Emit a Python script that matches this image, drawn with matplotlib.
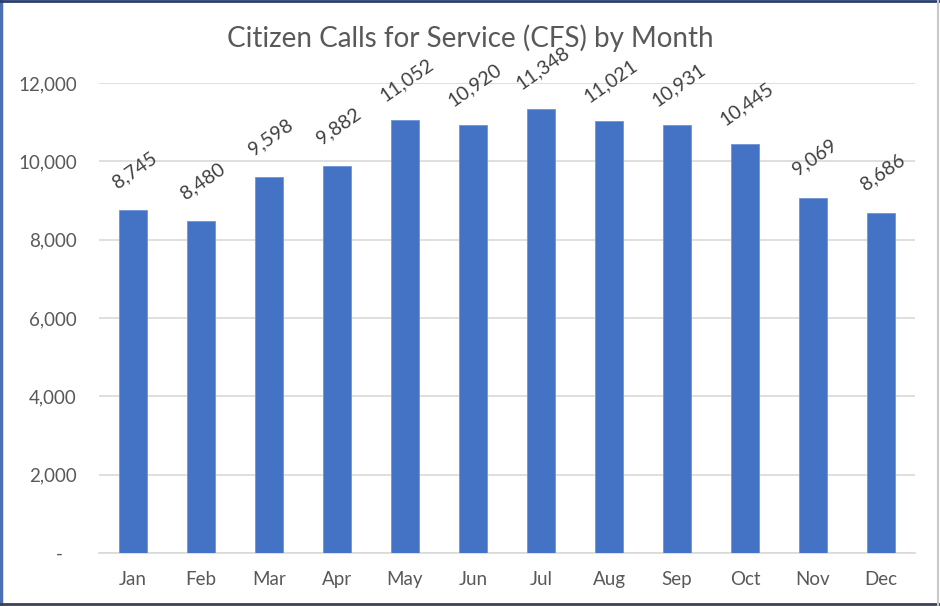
import matplotlib
matplotlib.use("Agg")
import matplotlib.pyplot as plt
from matplotlib.lines import Line2D
from matplotlib.ticker import FuncFormatter

months = ["Jan", "Feb", "Mar", "Apr", "May", "Jun", "Jul", "Aug", "Sep", "Oct", "Nov", "Dec"]
calls = [8745, 8480, 9598, 9882, 11052, 10920, 11348, 11021, 10931, 10445, 9069, 8686]
yticks = [0, 2000, 4000, 6000, 8000, 10000, 12000]
title = "Citizen Calls for Service (CFS) by Month"

plt.rcParams['font.family'] = ['Lato', 'DejaVu Sans']
txt = "#595959"

fig = plt.figure(figsize=(9.4, 6.06), dpi=100)
ax = fig.add_axes([99/940, 1-553/606, (915-99)/940, (553-83)/606])

x = list(range(len(months)))
ax.bar(x, calls, width=0.4, color="#4472C4", edgecolor="#6f93d6", linewidth=0.6, zorder=3)
ax.set_xlim(-0.5, len(months)-0.5)
ax.set_ylim(0, 12000)
ax.set_yticks(yticks)
ax.yaxis.set_major_formatter(FuncFormatter(lambda v, p: "-\u00a0\u00a0\u00a0" if v == 0 else f"{int(v):,}"))
ax.set_xticks(x)
ax.set_xticklabels(months)
ax.tick_params(axis='both', length=0, labelsize=13.5, colors=txt)
ax.tick_params(axis='y', pad=16)
ax.tick_params(axis='x', pad=13)
ax.grid(axis='y', color="#d9d9d9", linewidth=1.2, zorder=0)
for s in ["top", "right", "left"]:
    ax.spines[s].set_visible(False)
ax.spines["bottom"].set_color("#d9d9d9")
ax.spines["bottom"].set_linewidth(1.2)

for xi, v in zip(x, calls):
    ax.annotate(f"{v:,}", (xi, v), xytext=(1.5, 29), textcoords="offset points",
                ha="center", va="center", rotation=35, fontsize=14, color="#404040")

fig.text(0.5, 1-38/606, title, ha="center", va="center", fontsize=20, color=txt)

# frame
tf = fig.transFigure
fig.lines.append(Line2D([0.001, 0.001], [0, 1], transform=tf, color="#4a6fb5", linewidth=2.5))
fig.lines.append(Line2D([0, 1], [0.999, 0.999], transform=tf, color="#2a3f70", linewidth=2))
fig.lines.append(Line2D([0, 1], [0.004, 0.004], transform=tf, color="#3a4150", linewidth=2))
fig.lines.append(Line2D([0.998, 0.998], [0, 1], transform=tf, color="#c8c8c8", linewidth=1.5))
fig.savefig("out.png", dpi=100)
